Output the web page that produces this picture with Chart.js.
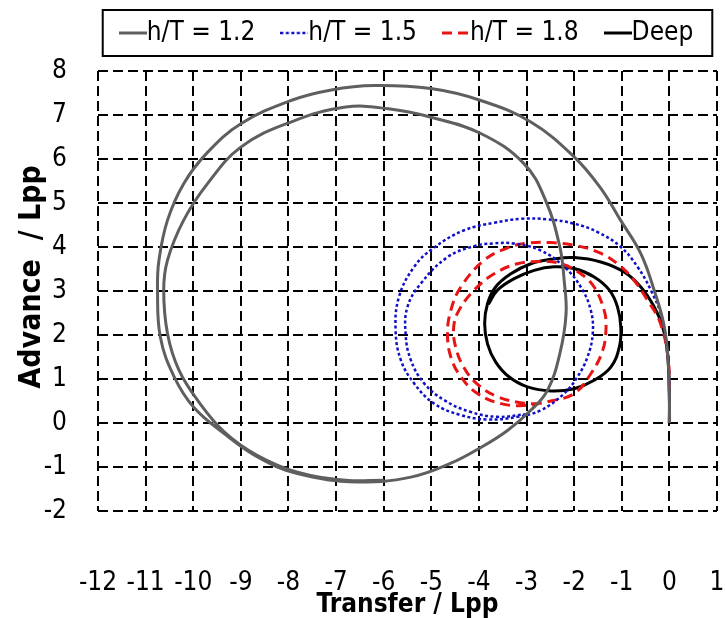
<!DOCTYPE html>
<html>
<head>
<meta charset="utf-8">
<script src="https://cdn.jsdelivr.net/npm/chart.js@4.4.1/dist/chart.umd.min.js"></script>
<style>
  html, body { margin: 0; padding: 0; background: #fff; }
</style>
</head>
<body>
<canvas id="turning-chart" width="725" height="618"></canvas>
<script>
// h/T = 1.2
const shallowX = [0, 0, -0.03, -0.12, -0.32, -0.6, -1.02, -1.45, -2.0, -2.91, -3.96, -5.01, -6.2, -7.1, -7.95, -9.0, -9.7, -10.2, -10.54, -10.72, -10.75, -10.69, -10.4, -9.99, -9.35, -8.65, -7.81, -6.55, -5.43, -4.6, -3.95, -3.4, -2.9, -2.56, -2.3, -2.17, -2.21, -2.3, -2.6, -3.05, -3.96, -5.01, -5.9, -6.8, -7.95, -9.0, -9.7, -10.2, -10.54, -10.62, -10.54, -10.3, -9.91, -9.35, -8.65, -7.81, -6.8, -6.0];
const shallowY = [0, 0.6, 1.5, 2.26, 3.02, 3.85, 4.6, 5.35, 6.05, 6.84, 7.33, 7.6, 7.67, 7.57, 7.33, 6.8, 6.15, 5.44, 4.61, 3.7, 3.02, 1.95, 1.05, 0.36, -0.24, -0.77, -1.15, -1.34, -1.23, -0.92, -0.55, -0.17, 0.3, 0.74, 1.58, 2.48, 3.24, 4.0, 5.06, 5.89, 6.58, 6.95, 7.14, 7.18, 6.84, 6.27, 5.44, 4.61, 3.7, 3.02, 2.03, 1.2, 0.52, -0.2, -0.74, -1.12, -1.3, -1.3];

// h/T = 1.5
const midX = [0, 0, -0.03, -0.16, -0.39, -0.67, -1.02, -1.51, -2.0, -2.56, -3.12, -3.68, -4.31, -4.95, -5.36, -5.68, -5.75, -5.64, -5.36, -4.94, -4.38, -3.82, -3.19, -2.7, -2.21, -1.93, -1.72, -1.61, -1.65, -1.86, -2.21, -2.7, -3.26, -3.7, -4.1, -4.66, -5.22, -5.5, -5.54, -5.43, -5.15, -4.73, -4.17, -3.61, -3.0];
const midY = [0, 0.6, 1.5, 2.4, 3.02, 3.55, 4.0, 4.34, 4.53, 4.63, 4.64, 4.55, 4.38, 3.98, 3.55, 2.86, 2.11, 1.43, 0.9, 0.44, 0.18, 0.08, 0.14, 0.29, 0.67, 1.05, 1.5, 2.03, 2.56, 3.09, 3.55, 3.92, 4.08, 4.08, 4.02, 3.77, 3.17, 2.64, 2.03, 1.43, 0.9, 0.52, 0.25, 0.14, 0.2];

// h/T = 1.8
const highX = [0, 0, -0.03, -0.2, -0.46, -0.74, -1.09, -1.51, -2.0, -2.49, -2.98, -3.4, -3.89, -4.38, -4.59, -4.66, -4.59, -4.38, -4.03, -3.54, -3.05, -2.49, -2.0, -1.65, -1.4, -1.33, -1.37, -1.58, -1.86, -2.28, -2.7, -3.19, -3.68, -4.1, -4.42, -4.53, -4.49, -4.32, -4.04, -3.61, -3.05, -2.6];
const highY = [0, 0.6, 1.5, 2.3, 2.79, 3.24, 3.62, 3.89, 4.04, 4.1, 4.09, 3.98, 3.7, 3.09, 2.56, 2.03, 1.5, 1.05, 0.67, 0.44, 0.4, 0.5, 0.67, 1.12, 1.65, 2.18, 2.56, 3.09, 3.39, 3.62, 3.67, 3.62, 3.39, 3.02, 2.56, 2.18, 1.73, 1.27, 0.89, 0.6, 0.45, 0.45];

// Deep water
const deepX = [0, 0, -0.04, -0.14, -0.32, -0.6, -0.95, -1.44, -2.0, -2.42, -2.91, -3.33, -3.65, -3.82, -3.88, -3.82, -3.65, -3.37, -2.98, -2.49, -2.0, -1.58, -1.23, -1.05, -1.02, -1.09, -1.26, -1.58, -2.0, -2.42, -2.84, -3.26, -3.61, -3.8];
const deepY = [0, 0.6, 1.58, 2.18, 2.64, 3.09, 3.43, 3.66, 3.76, 3.73, 3.62, 3.39, 3.09, 2.71, 2.26, 1.8, 1.39, 1.05, 0.82, 0.73, 0.78, 0.97, 1.27, 1.73, 2.18, 2.64, 3.02, 3.32, 3.51, 3.55, 3.47, 3.28, 3.02, 2.7];

const seriesLabels = ['h/T = 1.2', 'h/T = 1.5', 'h/T = 1.8', 'Deep'];
const xTicks = [-12, -11, -10, -9, -8, -7, -6, -5, -4, -3, -2, -1, 0, 1];
const yTicks = [-2, -1, 0, 1, 2, 3, 4, 5, 6, 7, 8];

const FONT = "'Liberation Sans Narrow', 'DejaVu Sans Condensed', 'Liberation Sans', sans-serif";

function toPoints(xs, ys) {
    return xs.map((x, i) => ({ x: x, y: ys[i] }));
}

// small canvas used as legend symbol, so the line sits right next to the text
function legendLine(color, width, dash) {
    const c = document.createElement('canvas');
    c.width = 28;
    c.height = 8;
    const g = c.getContext('2d');
    g.strokeStyle = color;
    g.lineWidth = width;
    g.setLineDash(dash);
    g.beginPath();
    g.moveTo(0, 4);
    g.lineTo(28, 4);
    g.stroke();
    return c;
}

const styles = [
    { color: '#5f5f5f', width: 3, dash: [] },
    { color: '#1010c8', width: 2.5, dash: [3, 2.5] },
    { color: '#e81414', width: 3, dash: [10, 6] },
    { color: '#000000', width: 3, dash: [] }
];
const legendImgs = styles.map(s => legendLine(s.color, s.width, s.dash));

const seriesData = [
    toPoints(shallowX, shallowY),
    toPoints(midX, midY),
    toPoints(highX, highY),
    toPoints(deepX, deepY)
];

const legendShift = -18;

const legendBoxPlugin = {
    id: 'legendBox',
    beforeLayout(chart) {
        const legend = chart.legend;
        if (!legend || legend._patched) return;
        legend._patched = true;
        const fit = legend.fit;
        legend.fit = function () {
            fit.call(this);
            this.height = 71;
        };
        const draw = legend.draw;
        legend.draw = function (area) {
            const ctx = this.ctx;
            const boxes = this.legendHitBoxes;
            const first = boxes[0];
            const last = boxes[boxes.length - 1];
            const boxL = first.left - 29;
            const boxR = last.left + last.width + 19;
            const ca = this.chart.chartArea;
            const dx = (ca.left + ca.right) / 2 - (boxL + boxR) / 2;
            ctx.save();
            ctx.translate(dx, legendShift);
            draw.call(this, area);
            const cy = first.top + first.height / 2;
            ctx.lineWidth = 2;
            ctx.strokeStyle = '#000';
            ctx.setLineDash([]);
            ctx.strokeRect(boxL, cy - 23, boxR - boxL, 46);
            ctx.restore();
        };
    }
};

// tick label padding should not shrink the plot area
function noSidePadding(scale) {
    scale.paddingLeft = 0;
    scale.paddingRight = 0;
    scale.paddingTop = 0;
    scale.paddingBottom = 0;
}

const ctx = document.getElementById('turning-chart').getContext('2d');
new Chart(ctx, {
    type: 'scatter',
    data: {
        datasets: seriesData.map((pts, i) => ({
            label: seriesLabels[i],
            data: pts,
            showLine: true,
            borderColor: styles[i].color,
            backgroundColor: styles[i].color,
            borderWidth: styles[i].width,
            borderDash: styles[i].dash,
            pointRadius: 0,
            pointHoverRadius: 0,
            tension: 0.4,
            fill: false
        }))
    },
    options: {
        responsive: false,
        animation: false,
        devicePixelRatio: 1,
        layout: { padding: { left: 0, right: 8, top: 0, bottom: 0 } },
        plugins: {
            tooltip: { enabled: false },
            legend: {
                position: 'top',
                align: 'center',
                labels: {
                    usePointStyle: true,
                    pointStyleWidth: 2,
                    padding: 38,
                    color: '#000',
                    font: { family: FONT, size: 26 },
                    generateLabels(chart) {
                        const items = Chart.defaults.plugins.legend.labels.generateLabels(chart);
                        items.forEach((it, i) => {
                            it.pointStyle = legendImgs[i];
                        });
                        return items;
                    }
                }
            }
        },
        scales: {
            x: {
                type: 'linear',
                min: -12,
                max: 1,
                afterBuildTicks(scale) {
                    scale.ticks = xTicks.map(v => ({ value: v }));
                },
                afterFit(scale) {
                    scale.height = 107;
                    noSidePadding(scale);
                },
                grid: { color: '#000', lineWidth: 2, drawTicks: false },
                border: { display: false, dash: [10, 5] },
                ticks: {
                    color: '#000',
                    padding: 57,
                    maxRotation: 0,
                    font: { family: FONT, size: 26 }
                },
                title: {
                    display: true,
                    text: 'Transfer / Lpp',
                    color: '#000',
                    padding: 0,
                    font: { family: FONT, size: 26, weight: 'bold', lineHeight: 1 }
                }
            },
            y: {
                type: 'linear',
                min: -2,
                max: 8,
                afterBuildTicks(scale) {
                    scale.ticks = yTicks.map(v => ({ value: v }));
                },
                afterFit(scale) {
                    scale.width = 98;
                    noSidePadding(scale);
                },
                grid: { color: '#000', lineWidth: 2, drawTicks: false },
                border: { display: false, dash: [10, 5] },
                ticks: {
                    color: '#000',
                    padding: 31,
                    font: { family: FONT, size: 26 }
                },
                title: {
                    display: true,
                    // leading blanks nudge the rotated title up a little, as in the original
                    text: '   Advance  / Lpp',
                    color: '#000',
                    padding: { top: 17, bottom: 0 },
                    font: { family: FONT, size: 30, weight: 'bold', lineHeight: 1 }
                }
            }
        }
    },
    plugins: [legendBoxPlugin]
});
</script>
</body>
</html>
